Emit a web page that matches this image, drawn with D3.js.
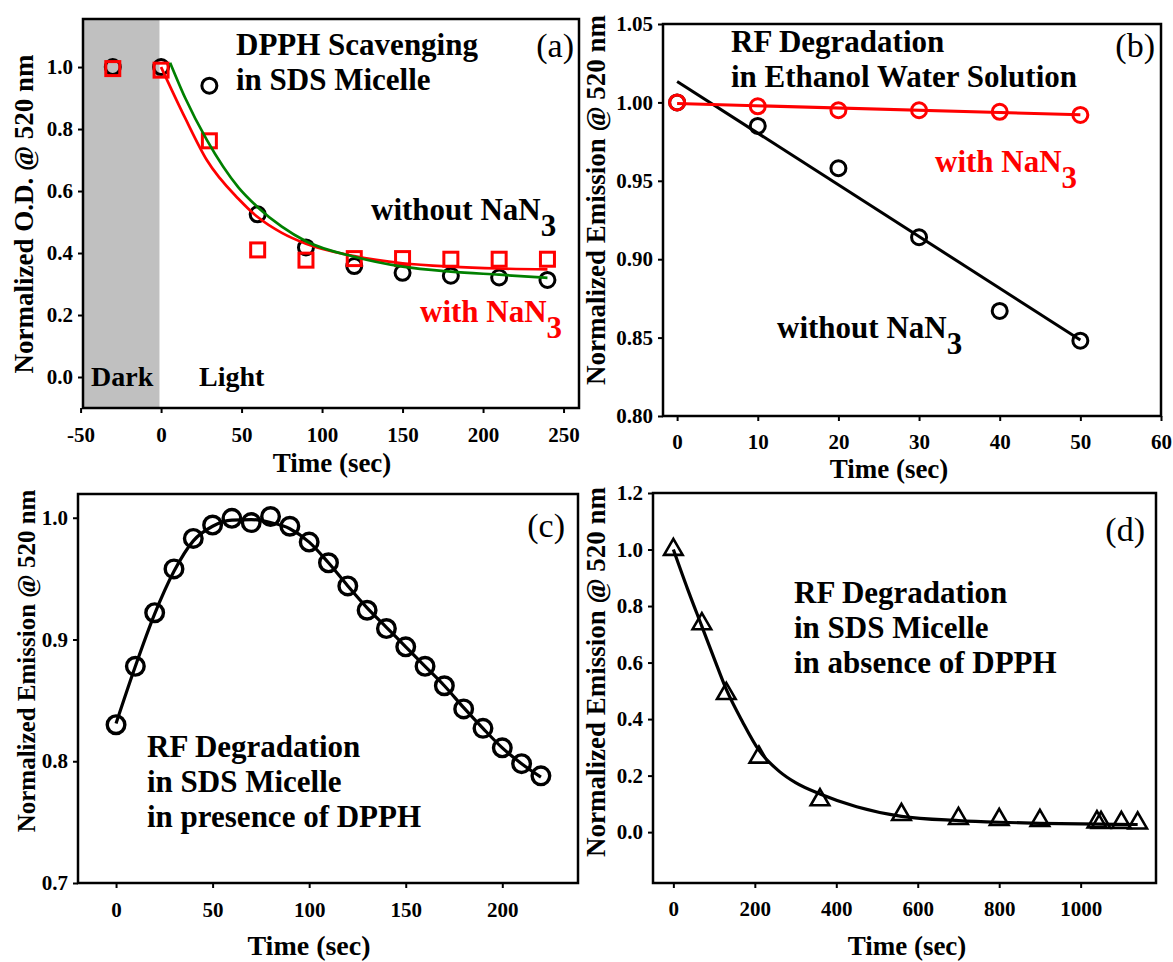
<!DOCTYPE html>
<html>
<head>
<meta charset="utf-8">
<script src="https://cdn.jsdelivr.net/npm/d3@7"></script>
<style>
  body { margin: 0; background: #fff; }
  svg { display: block; font-family: "Liberation Serif", "Times New Roman", serif; }
</style>
</head>
<body>
<div id="chart"></div>
<script>
// ---- panel (a): DPPH scavenging in SDS micelle ----
const aTime = [-30, 0, 30, 60, 90, 120, 150, 180, 210, 240];
const aWithout = [1.0, 1.0, 0.94, 0.525, 0.418, 0.358, 0.336, 0.327, 0.321, 0.313];
const aWith = [0.995, 0.99, 0.762, 0.41, 0.377, 0.382, 0.382, 0.38, 0.38, 0.38];
// fitted curves
const aFitWithoutT = [5.6, 15, 28.4, 48, 60, 75, 90, 120, 150, 180, 210, 240];
const aFitWithout = [1.014, 0.90, 0.765, 0.612, 0.548, 0.485, 0.438, 0.388, 0.356, 0.34, 0.33, 0.32];
const aFitWithT = [0, 15, 28.4, 48, 60, 75, 90, 120, 150, 180, 210, 240];
const aFitWith = [1.0, 0.835, 0.70, 0.575, 0.516, 0.465, 0.430, 0.39, 0.367, 0.356, 0.35, 0.347];
const aDark = [-48.5, -1];
const aXTicks = [-50, 0, 50, 100, 150, 200, 250];
const aYTicks = [0.0, 0.2, 0.4, 0.6, 0.8, 1.0];

// ---- panel (b): RF degradation in ethanol water ----
const bTime = [0, 10, 20, 30, 40, 50];
const bWithout = [1.0, 0.985, 0.958, 0.914, 0.867, 0.848];
const bWith = [1.0, 0.9975, 0.995, 0.995, 0.994, 0.992];
const bFitT = [0, 50];
const bFitWithout = [1.0134, 0.8485];
const bFitWith = [0.9993, 0.9921];
const bXTicks = [0, 10, 20, 30, 40, 50, 60];
const bYTicks = [0.80, 0.85, 0.90, 0.95, 1.00, 1.05];

// ---- panel (c): RF degradation in SDS micelle with DPPH ----
const cTime = [0, 10, 20, 30, 40, 50, 60, 70, 80, 90, 100, 110, 120, 130, 140, 150, 160, 170, 180, 190, 200, 210, 220];
const cEmission = [0.830, 0.878, 0.922, 0.958, 0.983, 0.994, 0.9995, 0.996, 1.001, 0.993, 0.980, 0.963, 0.944, 0.924, 0.909, 0.894, 0.878, 0.862, 0.843, 0.827, 0.811, 0.798, 0.788];
const cFit = [0.831, 0.878, 0.921, 0.956, 0.981, 0.993, 0.998, 0.9985, 0.996, 0.991, 0.980, 0.963, 0.944, 0.926, 0.910, 0.894, 0.878, 0.862, 0.844, 0.827, 0.811, 0.798, 0.787];
const cXTicks = [0, 50, 100, 150, 200];
const cYTicks = [0.7, 0.8, 0.9, 1.0];

// ---- panel (d): RF degradation in SDS micelle without DPPH ----
const dTime = [0, 70, 130, 210, 360, 560, 700, 800, 900, 1040, 1050, 1100, 1140];
const dEmission = [1.0, 0.737, 0.49, 0.265, 0.114, 0.062, 0.048, 0.044, 0.041, 0.036, 0.034, 0.034, 0.032];
const dFitT = [0, 35, 70, 100, 130, 170, 210, 260, 300, 360, 450, 560, 700, 800, 900, 1000, 1140];
const dFit = [1.0, 0.86, 0.728, 0.615, 0.505, 0.39, 0.29, 0.215, 0.175, 0.135, 0.09, 0.056, 0.041, 0.035, 0.031, 0.029, 0.027];
const dXTicks = [0, 200, 400, 600, 800, 1000];
const dYTicks = [0.0, 0.2, 0.4, 0.6, 0.8, 1.0, 1.2];

const RED = '#ff0000';
const GREEN = '#008000';

const svg = d3.select('#chart').append('svg')
    .attr('width', 1173)
    .attr('height', 962);

drawPanelA();
drawPanelB();
drawPanelC();
drawPanelD();

function makeScales(box, xDomain, yDomain) {
    const x = d3.scaleLinear().domain(xDomain).range([box.left, box.right]);
    const y = d3.scaleLinear().domain(yDomain).range([box.bottom, box.top]);
    return { x, y };
}

function drawAxes(box, sc, opt) {
    const gx = svg.append('g')
        .attr('transform', `translate(0,${box.bottom})`)
        .call(d3.axisBottom(sc.x).tickValues(opt.xTicks).tickSize(5)
            .tickPadding(opt.xPad).tickFormat(d => String(d)));
    const gy = svg.append('g')
        .attr('transform', `translate(${box.left},0)`)
        .call(d3.axisLeft(sc.y).tickValues(opt.yTicks).tickSize(5)
            .tickPadding(5).tickFormat(d3.format(opt.yFmt)));

    [gx, gy].forEach(g => {
        g.attr('font-family', null).attr('font-size', null);
        g.select('.domain').remove();
        g.selectAll('line').attr('stroke', '#000').attr('stroke-width', 2);
        g.selectAll('text')
            .attr('fill', '#000')
            .style('font-size', '21px')
            .style('font-weight', 'bold');
    });

    // box frame
    svg.append('rect')
        .attr('x', box.left)
        .attr('y', box.top)
        .attr('width', box.right - box.left)
        .attr('height', box.bottom - box.top)
        .attr('fill', 'none')
        .attr('stroke', '#000')
        .attr('stroke-width', 2.5);

    svg.append('text')
        .attr('x', opt.xTitle[0])
        .attr('y', opt.xTitle[1])
        .attr('text-anchor', 'middle')
        .style('font-size', opt.xTitle[2] + 'px')
        .style('font-weight', 'bold')
        .text('Time (sec)');

    svg.append('text')
        .attr('transform', `translate(${opt.yTitle[0]},${opt.yTitle[1]}) rotate(-90)`)
        .attr('text-anchor', 'middle')
        .style('font-size', opt.yTitle[2] + 'px')
        .style('font-weight', 'bold')
        .text(opt.yLabel);
}

function drawLine(xs, ys, sc, color, width, curve) {
    svg.append('path')
        .datum(d3.zip(xs, ys))
        .attr('d', d3.line()
            .x(d => sc.x(d[0]))
            .y(d => sc.y(d[1]))
            .curve(curve || d3.curveLinear))
        .attr('fill', 'none')
        .attr('stroke', color)
        .attr('stroke-width', width);
}

function drawCircles(xs, ys, sc, color, r, width) {
    svg.append('g').selectAll('circle')
        .data(d3.zip(xs, ys))
        .enter().append('circle')
        .attr('cx', d => sc.x(d[0]))
        .attr('cy', d => sc.y(d[1]))
        .attr('r', r)
        .attr('fill', 'none')
        .attr('stroke', color)
        .attr('stroke-width', width);
}

function drawSquares(xs, ys, sc, color, side, width) {
    svg.append('g').selectAll('rect')
        .data(d3.zip(xs, ys))
        .enter().append('rect')
        .attr('x', d => sc.x(d[0]) - side / 2)
        .attr('y', d => sc.y(d[1]) - side / 2)
        .attr('width', side)
        .attr('height', side)
        .attr('fill', 'none')
        .attr('stroke', color)
        .attr('stroke-width', width);
}

function drawTriangles(xs, ys, sc, color, size, width) {
    const tri = d3.symbol().type(d3.symbolTriangle).size(size);
    svg.append('g').selectAll('path')
        .data(d3.zip(xs, ys))
        .enter().append('path')
        .attr('d', tri)
        .attr('transform', d => `translate(${sc.x(d[0])},${sc.y(d[1])})`)
        .attr('fill', 'none')
        .attr('stroke', color)
        .attr('stroke-width', width)
        .attr('stroke-linejoin', 'miter');
}

function addText(x, y, str, opt) {
    opt = opt || {};
    const t = svg.append('text')
        .attr('x', x)
        .attr('y', y)
        .attr('fill', opt.color || '#000')
        .attr('text-anchor', opt.anchor || 'start')
        .style('font-size', (opt.size || 31) + 'px')
        .style('font-weight', opt.normal ? 'normal' : 'bold')
        .text(str);
    if (opt.sub) {
        t.append('tspan').attr('dy', 16).text(opt.sub);
    }
    return t;
}

function drawPanelA() {
    console.log('Drawing panel a');
    const box = { left: 83, right: 579, top: 19, bottom: 408 };
    const sc = makeScales(box, [-48.5, 259.6], [-0.1, 1.155]);

    svg.append('rect')
        .attr('x', sc.x(aDark[0]))
        .attr('y', box.top)
        .attr('width', sc.x(aDark[1]) - sc.x(aDark[0]))
        .attr('height', box.bottom - box.top)
        .attr('fill', '#c0c0c0');

    drawCircles(aTime, aWithout, sc, '#000', 7.5, 3);
    drawSquares(aTime, aWith, sc, RED, 14, 3);
    drawLine(aFitWithT, aFitWith, sc, RED, 2.7, d3.curveMonotoneX);
    drawLine(aFitWithoutT, aFitWithout, sc, GREEN, 2.7, d3.curveMonotoneX);

    drawAxes(box, sc, {
        xTicks: aXTicks, yTicks: aYTicks, yFmt: '.1f', xPad: 14,
        xTitle: [332, 472, 27], yTitle: [33, 214, 27],
        yLabel: 'Normalized O.D. @ 520 nm'
    });

    addText(236, 55, 'DPPH Scavenging');
    addText(236, 90, 'in SDS Micelle');
    addText(574, 57, '(a)', { normal: true, size: 34, anchor: 'end' });
    addText(371, 220, 'without NaN', { sub: '3' });
    addText(420, 322, 'with NaN', { sub: '3', color: RED });
    addText(91, 386, 'Dark', { size: 28 });
    addText(199, 386, 'Light', { size: 28 });
}

function drawPanelB() {
    console.log('Drawing panel b');
    const box = { left: 663, right: 1161, top: 24, bottom: 416 };
    const sc = makeScales(box, [-1.75, 60], [0.80, 1.05]);

    drawCircles(bTime, bWithout, sc, '#000', 7.5, 3);
    drawLine(bFitT, bFitWithout, sc, '#000', 3);
    drawCircles(bTime, bWith, sc, RED, 7.5, 3);
    drawLine(bFitT, bFitWith, sc, RED, 3);

    drawAxes(box, sc, {
        xTicks: bXTicks, yTicks: bYTicks, yFmt: '.2f', xPad: 13,
        xTitle: [889, 478, 27], yTitle: [605, 200, 27],
        yLabel: 'Normalized Emission @ 520 nm'
    });

    addText(731, 52, 'RF Degradation');
    addText(731, 87, 'in Ethanol Water Solution');
    addText(1155, 57, '(b)', { normal: true, size: 34, anchor: 'end' });
    addText(935, 172, 'with NaN', { sub: '3', color: RED });
    addText(777, 338, 'without NaN', { sub: '3' });
}

function drawPanelC() {
    console.log('Drawing panel c');
    const box = { left: 78, right: 578, top: 494, bottom: 883 };
    const sc = makeScales(box, [-19.7, 239.2], [0.7, 1.0195]);

    drawLine(cTime, cFit, sc, '#000', 3.2, d3.curveMonotoneX);
    drawCircles(cTime, cEmission, sc, '#000', 8.8, 3.4);

    drawAxes(box, sc, {
        xTicks: cXTicks, yTicks: cYTicks, yFmt: '.1f', xPad: 14,
        xTitle: [309, 955, 28], yTitle: [35, 661, 25],
        yLabel: 'Normalized Emission @ 520 nm'
    });

    addText(147, 757, 'RF Degradation');
    addText(147, 792, 'in SDS Micelle');
    addText(147, 827, 'in presence of DPPH');
    addText(565, 537, '(c)', { normal: true, size: 34, anchor: 'end' });
}

function drawPanelD() {
    console.log('Drawing panel d');
    const box = { left: 653, right: 1156, top: 493, bottom: 883 };
    const sc = makeScales(box, [-50, 1185], [-0.18, 1.2]);

    drawTriangles(dTime, dEmission, sc, '#000', 150, 2.6);
    drawLine(dFitT, dFit, sc, '#000', 3.2, d3.curveMonotoneX);

    drawAxes(box, sc, {
        xTicks: dXTicks, yTicks: dYTicks, yFmt: '.1f', xPad: 13,
        xTitle: [907, 955, 27], yTitle: [605, 672, 27],
        yLabel: 'Normalized Emission @ 520 nm'
    });

    addText(794, 603, 'RF Degradation');
    addText(794, 638, 'in SDS Micelle');
    addText(794, 673, 'in absence of DPPH');
    addText(1145, 541, '(d)', { normal: true, size: 34, anchor: 'end' });
}
</script>
</body>
</html>
